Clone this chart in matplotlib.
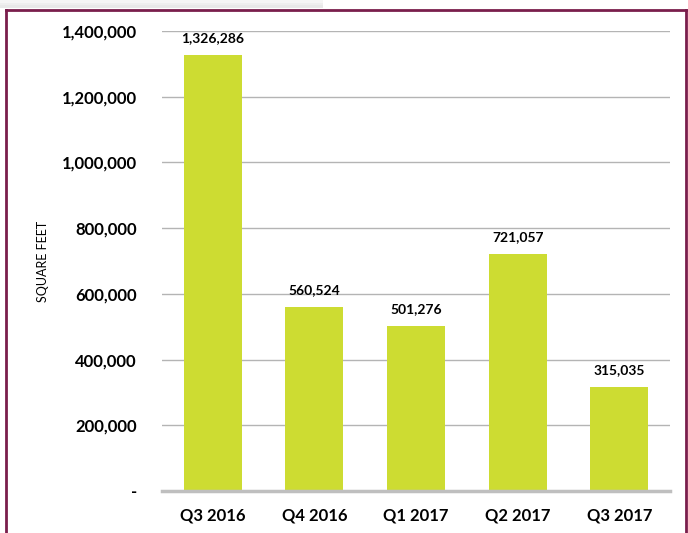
import matplotlib.pyplot as plt
from matplotlib.patches import Rectangle
from matplotlib.lines import Line2D

quarters = ["Q3 2016", "Q4 2016", "Q1 2017", "Q2 2017", "Q3 2017"]
sqft = [1326286, 560524, 501276, 721057, 315035]
yticks = [0, 200000, 400000, 600000, 800000, 1000000, 1200000, 1400000]
ytick_labels = ["-", "200,000", "400,000", "600,000", "800,000", "1,000,000", "1,200,000", "1,400,000"]

plt.rcParams['font.family'] = ['Lato', 'DejaVu Sans']

fig = plt.figure(figsize=(6.88, 5.33), dpi=100)
ax = fig.add_axes([0.2355, 0.0788, 0.7385, 0.863])

x = range(len(quarters))
bars = ax.bar(x, sqft, width=0.57, color="#CDDC32", zorder=3)

for i, v in enumerate(sqft):
	ax.annotate(f"{v:,}", (i, v), xytext=(0, 8), textcoords="offset points",
				ha="center", va="bottom", fontsize=10, fontweight="bold")

ax.set_xlim(-0.5, len(quarters) - 0.5)
ax.set_ylim(0, 1400000)
ax.set_yticks(yticks)
ax.set_yticklabels(ytick_labels, fontsize=12, fontweight="bold")
ax.set_xticks(list(x))
ax.set_xticklabels(quarters, fontsize=12, fontweight="bold")
ax.tick_params(axis="y", length=0, pad=18)
ax.tick_params(axis="x", length=0, pad=12)
ax.grid(axis="y", color="#B4B4B4", linewidth=1, zorder=0)
for s in ["top", "right", "left"]:
	ax.spines[s].set_visible(False)
ax.spines["bottom"].set_color("#BFBFBF")
ax.spines["bottom"].set_linewidth(2.5)
ax.spines["bottom"].set_zorder(4)

fig.text(0.062, 0.51, "SQUARE FEET", rotation=90, ha="center", va="center", fontsize=9)

# frame and shadow
maroon = "#7A1E4C"
for k, a in enumerate([0.35, 0.25, 0.15]):
	fig.add_artist(Rectangle((0, 0.985 + k * 0.005), 0.47, 0.005, transform=fig.transFigure,
							 color="#BFBFBF", alpha=a, lw=0, zorder=0))
fig.add_artist(Line2D([0.009, 0.009], [0, 0.981], transform=fig.transFigure, color=maroon, lw=2))
fig.add_artist(Line2D([0.009, 0.997], [0.981, 0.981], transform=fig.transFigure, color=maroon, lw=2))
fig.add_artist(Line2D([0.997, 0.997], [0, 0.981], transform=fig.transFigure, color=maroon, lw=2))

fig.savefig("out.png", dpi=100)
